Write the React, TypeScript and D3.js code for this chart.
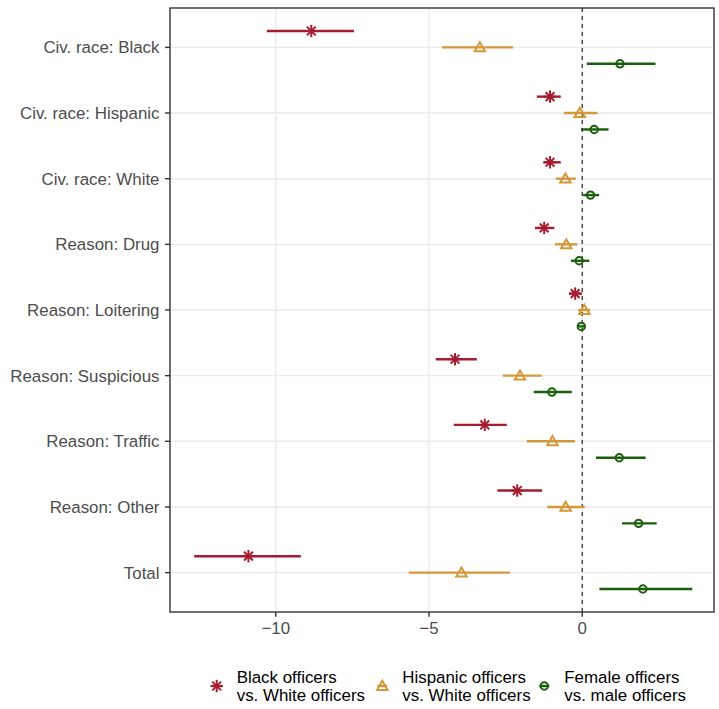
import React from "react";
import * as d3 from "d3";

// Rows of the coefficient plot, top to bottom
const categories = [
  "Civ. race: Black",
  "Civ. race: Hispanic",
  "Civ. race: White",
  "Reason: Drug",
  "Reason: Loitering",
  "Reason: Suspicious",
  "Reason: Traffic",
  "Reason: Other",
  "Total",
];

// Black officers vs. White officers
const blackEst = [-8.84, -1.05, -1.05, -1.24, -0.23, -4.15, -3.18, -2.12, -10.89];
const blackLo = [-10.29, -1.48, -1.27, -1.54, -0.43, -4.78, -4.19, -2.77, -12.66];
const blackHi = [-7.45, -0.7, -0.7, -0.91, -0.01, -3.44, -2.46, -1.31, -9.18];

// Hispanic officers vs. White officers
const hispEst = [-3.34, -0.08, -0.55, -0.52, 0.07, -2.03, -0.97, -0.54, -3.94];
const hispLo = [-4.58, -0.6, -0.86, -0.89, -0.13, -2.59, -1.81, -1.14, -5.66];
const hispHi = [-2.26, 0.5, -0.21, -0.16, 0.26, -1.32, -0.24, 0.08, -2.36];

// Female officers vs. male officers
const femEst = [1.23, 0.39, 0.27, -0.1, -0.03, -0.99, 1.21, 1.84, 1.98];
const femLo = [0.15, -0.04, 0.03, -0.37, -0.14, -1.58, 0.45, 1.3, 0.56];
const femHi = [2.39, 0.86, 0.55, 0.23, 0.08, -0.34, 2.07, 2.43, 3.59];

const xTicks = [-10, -5, 0];

const seriesNames = [
  ["Black officers", "vs. White officers"],
  ["Hispanic officers", "vs. White officers"],
  ["Female officers", "vs. male officers"],
];

const W = 719;
const H = 709;
const panel = { left: 170, right: 714, top: 8, bottom: 612 };
const FONT = "'Liberation Sans', Arial, Helvetica, sans-serif";
const FS = 16.9;
const colors = ["#A51C30", "#D4973A", "#1B5E0C"];

type Shape = "asterisk" | "triangle" | "circle";
const shapes: Shape[] = ["asterisk", "triangle", "circle"];

function Marker({ shape, x, y, color }: { shape: Shape; x: number; y: number; color: string }) {
  if (shape === "asterisk") {
    const r = 6.2;
    const d = r / Math.SQRT2;
    return (
      <g stroke={color} strokeWidth={2} strokeLinecap="butt">
        <line x1={x} y1={y - r} x2={x} y2={y + r} />
        <line x1={x - r} y1={y} x2={x + r} y2={y} />
        <line x1={x - d} y1={y - d} x2={x + d} y2={y + d} />
        <line x1={x - d} y1={y + d} x2={x + d} y2={y - d} />
      </g>
    );
  }
  if (shape === "triangle") {
    const s = 5.2;
    const pts = [
      [x, y - s * 1.0],
      [x - s, y + s * 0.75],
      [x + s, y + s * 0.75],
    ];
    return (
      <polygon
        points={pts.map((p) => p.join(",")).join(" ")}
        fill="none"
        stroke={color}
        strokeWidth={2}
        strokeLinejoin="miter"
      />
    );
  }
  return <circle cx={x} cy={y} r={3.7} fill="none" stroke={color} strokeWidth={2} />;
}

export default function App() {
  const x = d3.scaleLinear().domain([-13.45, 4.3]).range([panel.left, panel.right]);
  const y = d3
    .scalePoint<string>()
    .domain(categories)
    .range([panel.top, panel.bottom])
    .padding(0.6);
  const step = y.step();
  const dodge = [-0.25 * step, 0, 0.25 * step];

  const series = [
    { est: blackEst, lo: blackLo, hi: blackHi },
    { est: hispEst, lo: hispLo, hi: hispHi },
    { est: femEst, lo: femLo, hi: femHi },
  ];

  const legendX = [216.7, 382.3, 544.3];
  const legendY = 686;

  return (
    <svg
      width={W}
      height={H}
      style={{ position: "absolute", left: 0, top: 0 }}
      fontFamily={FONT}
    >
      <rect x={0} y={0} width={W} height={H} fill="#fff" />
      {/* grid */}
      {xTicks.map((t) => (
        <line
          key={"gx" + t}
          x1={x(t)}
          x2={x(t)}
          y1={panel.top}
          y2={panel.bottom}
          stroke="#EBEBEB"
          strokeWidth={1.4}
        />
      ))}
      {categories.map((c) => (
        <line
          key={"gy" + c}
          x1={panel.left}
          x2={panel.right}
          y1={y(c)}
          y2={y(c)}
          stroke="#EBEBEB"
          strokeWidth={1.4}
        />
      ))}
      {/* reference line at zero */}
      <line
        x1={x(0)}
        x2={x(0)}
        y1={panel.top}
        y2={panel.bottom}
        stroke="#000"
        strokeWidth={1}
        strokeDasharray="4,4"
      />
      {/* estimates with intervals */}
      {series.map((s, si) =>
        categories.map((c, i) => {
          const cy = (y(c) as number) + dodge[si];
          return (
            <g key={si + "-" + i}>
              <line
                x1={x(s.lo[i])}
                x2={x(s.hi[i])}
                y1={cy}
                y2={cy}
                stroke={colors[si]}
                strokeWidth={2.4}
              />
              <Marker shape={shapes[si]} x={x(s.est[i])} y={cy} color={colors[si]} />
            </g>
          );
        })
      )}
      {/* panel border */}
      <rect
        x={panel.left}
        y={panel.top}
        width={panel.right - panel.left}
        height={panel.bottom - panel.top}
        fill="none"
        stroke="#333333"
        strokeWidth={1.4}
      />
      {/* y axis */}
      {categories.map((c) => (
        <g key={"ya" + c}>
          <line
            x1={panel.left - 5}
            x2={panel.left}
            y1={y(c)}
            y2={y(c)}
            stroke="#333333"
            strokeWidth={1.4}
          />
          <text
            x={panel.left - 10.5}
            y={(y(c) as number) + 6}
            textAnchor="end"
            fontSize={FS}
            fill="#4D4D4D"
          >
            {c}
          </text>
        </g>
      ))}
      {/* x axis */}
      {xTicks.map((t) => (
        <g key={"xa" + t}>
          <line
            x1={x(t)}
            x2={x(t)}
            y1={panel.bottom}
            y2={panel.bottom + 4.7}
            stroke="#333333"
            strokeWidth={1.4}
          />
          <text
            x={x(t)}
            y={634.4}
            textAnchor="middle"
            fontSize={FS}
            fill="#4D4D4D"
          >
            {t < 0 ? "\u2212" + Math.abs(t) : String(t)}
          </text>
        </g>
      ))}
      {/* legend */}
      {seriesNames.map((lines, si) => (
        <g key={"lg" + si}>
          <line
            x1={legendX[si] - 5}
            x2={legendX[si] + 5}
            y1={legendY}
            y2={legendY}
            stroke={colors[si]}
            strokeWidth={2.4}
          />
          <Marker shape={shapes[si]} x={legendX[si]} y={legendY} color={colors[si]} />
          {lines.map((ln, li) => (
            <text
              key={li}
              x={legendX[si] + 20}
              y={683.3 + li * 17.4}
              fontSize={FS}
              fill="#000"
            >
              {ln}
            </text>
          ))}
        </g>
      ))}
    </svg>
  );
}
